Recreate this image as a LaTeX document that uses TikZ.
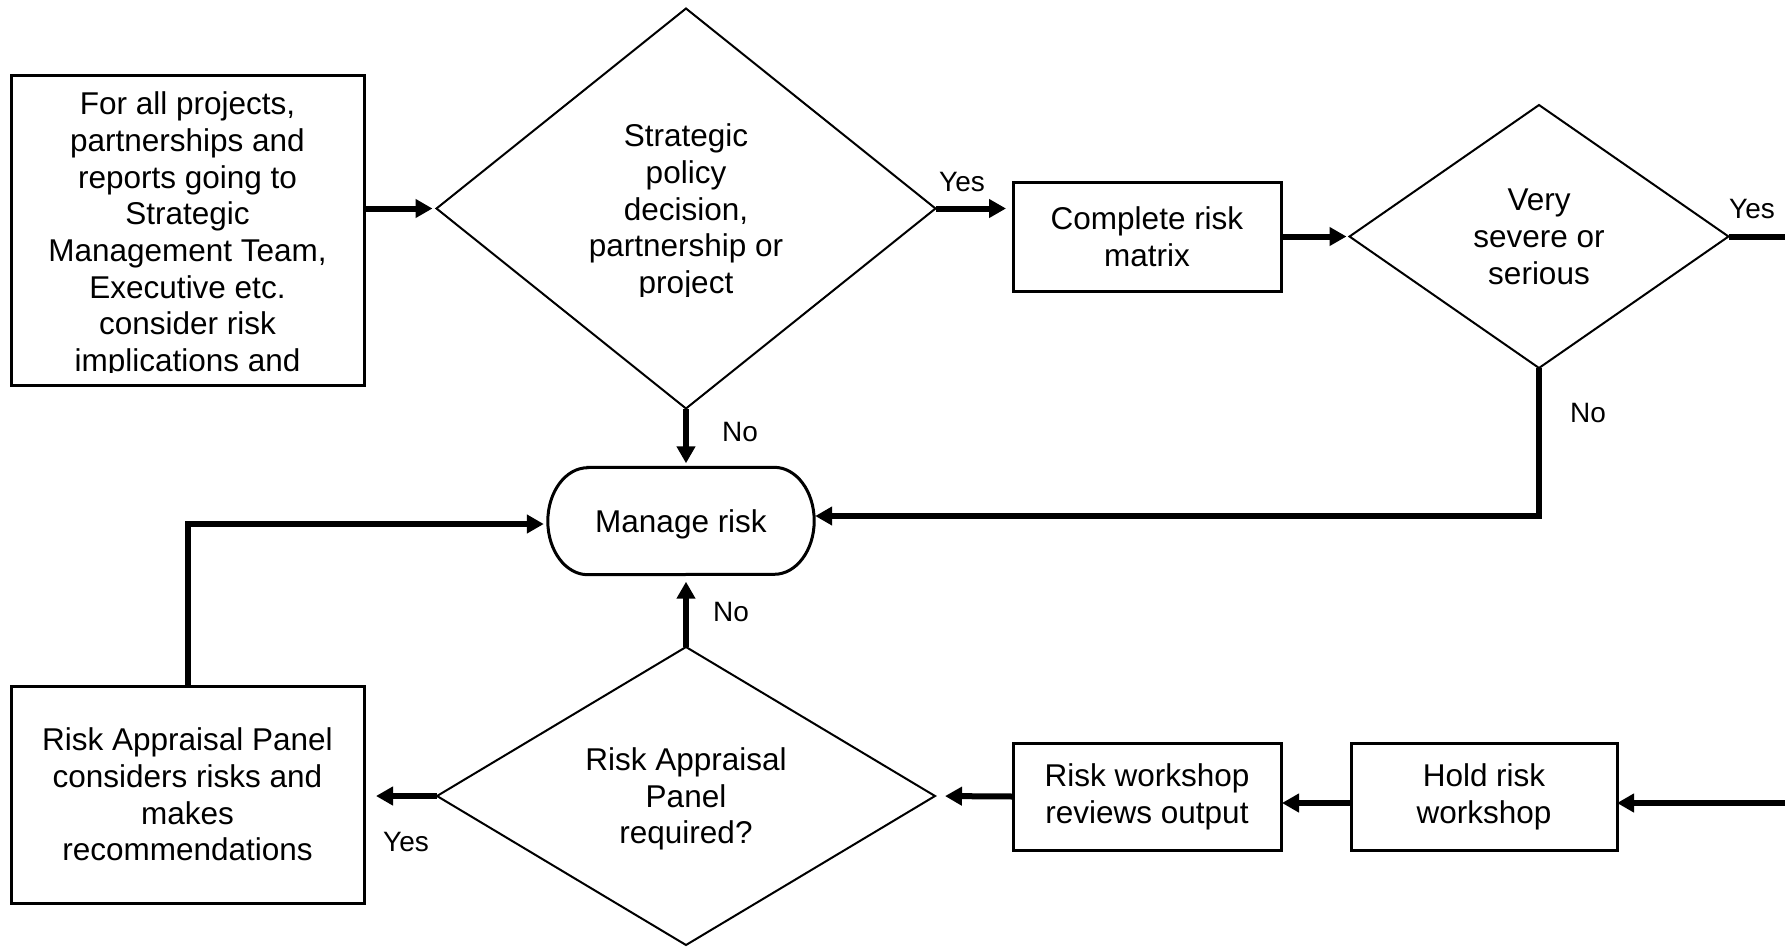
\documentclass[tikz,border=0pt]{standalone}
\usepackage{fontspec}
\setmainfont{Liberation Sans}
\usetikzlibrary{arrows.meta,shapes.geometric}
\begin{document}
\begin{tikzpicture}[x=1pt,y=-1pt,
  box/.style={draw, line width=3pt, inner sep=0pt, outer sep=0pt, align=center, font=\fontsize{31.5}{36.7}\selectfont},
  dec/.style={draw, diamond, line width=2pt, inner sep=0pt, outer sep=0pt},
  txt/.style={inner sep=0pt, align=center, font=\fontsize{31.5}{36.7}\selectfont},
  lbl/.style={inner sep=0pt, font=\fontsize{28}{30}\selectfont},
  conn/.style={line width=6pt, line join=miter, -{Triangle[length=17pt,width=18pt]}},
  bare/.style={line width=6pt, line join=miter}]
\useasboundingbox (0,0) rectangle (1785,948);
\fill[white] (0,0) rectangle (1785,948);

% nodes
\node[box, minimum width=353pt, minimum height=310pt] (b1) at (187.5,230) {};
\begin{scope}
  \clip (11,75) rectangle (364,372);
  \node[txt] (b1t) at (187.5,235) {For all projects,\\partnerships and\\reports going to\\Strategic\\Management Team,\\Executive etc.\\consider risk\\implications and};
\end{scope}

\node[dec, minimum width=499pt, minimum height=400pt] (d1) at (686,208.5) {};
\begin{scope}
  \clip (436,0) rectangle (936,296);
  \node[txt] (d1t) at (686,212) {Strategic\\policy\\decision,\\partnership or\\project};
\end{scope}

\node[box, minimum width=268pt, minimum height=109pt] (cm) at (1147,236.5) {Complete risk\\matrix};

\node[dec, minimum width=379pt, minimum height=263pt] (d2) at (1539,236.5) {};
\node[txt] (d2t) at (1539,237) {Very\\severe or\\serious};

% Manage risk: terminal with elliptical ends
\node[txt, minimum width=266pt, minimum height=107pt, text height=22.5pt, text depth=0pt] (m) at (681,521) {Manage risk};
\draw[line width=3pt] ([xshift=40pt]m.north west) -- ([xshift=-40pt]m.north east)
  arc[start angle=90, end angle=-90, x radius=40pt, y radius=53.5pt]
  -- ([xshift=40pt]m.south west)
  arc[start angle=270, end angle=90, x radius=40pt, y radius=53.5pt] -- cycle;

\node[box, minimum width=353pt, minimum height=217pt] (b3) at (187.5,794.5) {Risk Appraisal Panel\\considers risks and\\makes\\recommendations};

\node[dec, minimum width=498pt, minimum height=298pt] (d3) at (686,796) {};
\node[txt] (d3t) at (686,799) {Risk Appraisal\\Panel\\required?};

\node[box, minimum width=268pt, minimum height=107pt] (ws) at (1147,796.5) {Risk workshop\\reviews output};
\node[box, minimum width=266pt, minimum height=107pt] (hw) at (1484,796.5) {Hold risk\\workshop};

\coordinate (eR1) at (1785,239);
\coordinate (eR2) at (1785,803);

% labels
\node[lbl] (y1) at (962,182) {Yes};
\node[lbl] (y2) at (1752,209) {Yes};
\node[lbl] (n1) at (740,432) {No};
\node[lbl] (n2) at (1588,413) {No};
\node[lbl] (n3) at (731,612) {No};
\node[lbl] (y3) at (406,842) {Yes};

% connectors
\draw[conn, shorten >=4pt] (b1.east |- d1.west) -- (d1.west);
\draw[conn, shorten >=7pt] (d1.east) -- (d1.east -| cm.west);
\draw[conn, shorten >=3pt] (cm.east |- d2.west) -- (d2.west);
\draw[bare] (d2.east) -- (d2.east -| eR1);
\draw[conn] (eR2) -- (hw.east |- eR2);
\draw[conn, shorten >=1pt] (hw.west |- eR2) -- (ws.east |- eR2);
\draw[conn, shorten >=10pt] (ws.west) -- (d3.east);
\draw[conn, shorten >=12pt] (d3.west) -- (d3.west -| b3.east);
\draw[conn, shorten >=7pt] (d3.north) -- (d3.north |- m.south);
\draw[conn, shorten >=4pt] (d1.south) -- (d1.south |- m.north);
\draw[conn, shorten >=4pt] (b3.north) |- ([yshift=-3pt]m.west);
\draw[conn, shorten >=1pt] (d2.south) |- ([yshift=5pt]m.east);
\end{tikzpicture}
\end{document}
